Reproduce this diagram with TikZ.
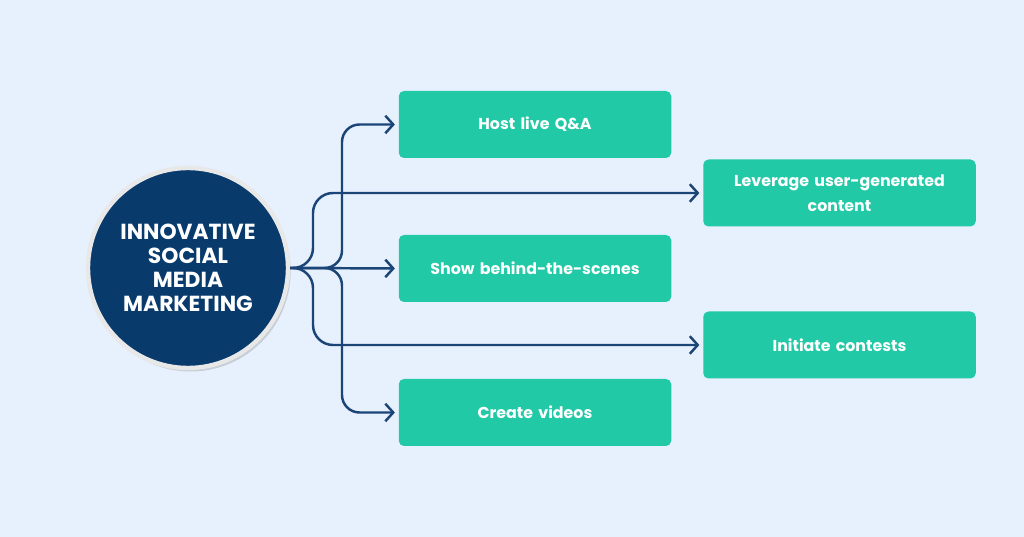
\documentclass[tikz,border=0pt]{standalone}
\usepackage{fontspec}
\setmainfont{Poppins}
\usepackage{tikz}
\usetikzlibrary{
  arrows.meta,
  positioning,
  calc,
  shadows
}
\definecolor{PageBlue}{HTML}{E7F0FD}
\definecolor{HubNavy}{HTML}{083A6C}
\definecolor{LineNavy}{HTML}{1A4576}
\definecolor{ATeal}{HTML}{22C9A6}
\tikzset{
  % Central hub circle
  hub/.style={
    circle, minimum size=4cm, inner sep=0pt,
    fill=HubNavy, draw=white!82!gray, line width=2.5pt,
    drop shadow={shadow xshift=1.5pt, shadow yshift=-2pt, opacity=0.3},
    text=white, align=center,
    font=\fontsize{12.4pt}{13.7pt}\selectfont\bfseries
  },
  % Idea box
  idea/.style={
    rectangle, rounded corners=3pt,
    fill=ATeal, draw=none,
    minimum width=5.45cm, minimum height=1.34cm,
    text=white, align=center, text width=5cm,
    font=\fontsize{9pt}{14pt}\selectfont\bfseries
  },
  % Connector
  conn/.style={
    -{Straight Barb[length=4.5pt,width=10pt,line width=1.4pt]},
    line width=1.4pt, color=LineNavy, shorten >=2pt
  }
}
\begin{document}
\begin{tikzpicture}

  % Page background
  \fill[PageBlue] (0,0) rectangle (20.48,10.74);

  % Hub
  \node[hub] (hub) at (3.76,5.38) {INNOVATIVE\\SOCIAL\\MEDIA\\MARKETING};

  % Left column of ideas
  \node[idea] (qa)     at (10.70,8.25) {Host live Q\&A};
  \node[idea] (scenes) at (10.70,5.37) {Show behind-the-scenes};
  \node[idea] (videos) at (10.70,2.49) {Create videos};

  % Right column of ideas
  \node[idea] (ugc)      at (16.79,6.88) {Leverage user-generated\\content};
  \node[idea] (contests) at (16.79,3.84) {Initiate contests};

  % Bus lines
  \coordinate (inner) at (6.84,5.38);
  \coordinate (outer) at (6.26,5.38);

  \draw[conn, rounded corners=0.35cm] (hub.east) -| (inner |- qa.west) -- (qa.west);
  \draw[conn] (hub.east) -- (scenes.west);
  \draw[conn, rounded corners=0.35cm] (hub.east) -| (inner |- videos.west) -- (videos.west);
  \draw[conn, rounded corners=0.4cm] (hub.east) -| (outer |- ugc.west) -- (ugc.west);
  \draw[conn, rounded corners=0.4cm] (hub.east) -| (outer |- contests.west) -- (contests.west);

\end{tikzpicture}
\end{document}
